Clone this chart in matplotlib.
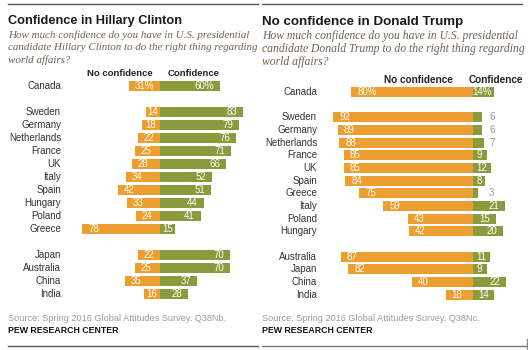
import matplotlib
matplotlib.use('Agg')
import matplotlib.pyplot as plt
from matplotlib.lines import Line2D

W, H = 528, 350

# Confidence in Hillary Clinton
hc_countries = ['Canada', 'Sweden', 'Germany', 'Netherlands', 'France', 'UK', 'Italy',
                'Spain', 'Hungary', 'Poland', 'Greece', 'Japan', 'Australia', 'China', 'India']
hc_no = [31, 14, 18, 22, 25, 28, 34, 42, 33, 24, 78, 22, 25, 35, 16]
hc_yes = [60, 83, 79, 76, 71, 66, 52, 51, 44, 41, 15, 70, 70, 37, 28]
hc_groups = [1, 10, 4]

# No confidence in Donald Trump
dt_countries = ['Canada', 'Sweden', 'Germany', 'Netherlands', 'France', 'UK', 'Spain',
                'Greece', 'Italy', 'Poland', 'Hungary', 'Australia', 'Japan', 'China', 'India']
dt_no = [80, 92, 89, 88, 85, 85, 84, 75, 59, 43, 42, 87, 82, 40, 18]
dt_yes = [14, 6, 6, 7, 9, 12, 8, 3, 21, 15, 20, 11, 9, 22, 14]
dt_groups = [1, 10, 4]

ORANGE = '#EC9E30'
GREEN = '#8A9A3C'
SANS = 'Liberation Sans'
SERIF = 'Liberation Serif'

fig = plt.figure(figsize=(W / 100, H / 100), dpi=100)


def ftext(x, y, s, **kw):
    fig.text(x / W, 1 - y / H, s, **kw)


def hline(x0, x1, y, color='#555555', lw=1.0):
    fig.add_artist(Line2D([x0 / W, x1 / W], [1 - y / H] * 2, color=color, lw=lw))


def slots(groups):
    pos = []
    i = 0
    for g in groups:
        for k in range(g):
            pos.append(i)
            i += 1
        i += 1
    return pos


def panel(x0, x1, zero, scale, top, step, countries, no, yes, groups, label_x, small_lim, gray_x):
    ax = fig.add_axes([x0 / W, 0, (x1 - x0) / W, 1])
    ax.set_xlim((x0 - zero) / scale, (x1 - zero) / scale)
    ax.set_ylim((H - top) / step, -top / step)
    ax.axis('off')
    pos = slots(groups)
    ax.barh(pos, [-v for v in no], height=0.78, color=ORANGE, lw=0)
    ax.barh(pos, yes, height=0.78, color=GREEN, lw=0)
    for i, p in enumerate(pos):
        suf = '%' if i == 0 else ''
        ax.text((label_x - zero) / scale, p, countries[i], ha='right', va='center',
                fontsize=7, family=SANS, color='#333333')
        t = str(no[i]) + suf
        w = no[i] * scale
        tw = 5.2 * len(t)
        pad = max(1, min(6, (w - tw) / 2))
        ax.annotate(t, (-no[i], p), xytext=(pad, 0), textcoords='offset pixels',
                    ha='left', va='center', fontsize=7, family=SANS, color='white')
        t = str(yes[i]) + suf
        if yes[i] < small_lim:
            ax.text((gray_x - zero) / scale, p, t, ha='left', va='center',
                    fontsize=7, family=SANS, color='#999999')
        else:
            w = yes[i] * scale
            tw = 5.2 * len(t)
            pad = max(1, min(6, (w - tw) / 2))
            ax.annotate(t, (yes[i], p), xytext=(-pad, 0), textcoords='offset pixels',
                        ha='right', va='center', fontsize=7, family=SANS, color='white')
    return ax


panel(0, 262, 160, 1.0, 86, 13.0, hc_countries, hc_no, hc_yes, hc_groups, 61, 0, 0)
panel(264, 528, 473, 1.52, 92, 12.67, dt_countries, dt_no, dt_yes, dt_groups, 317, 8, 489)

# left header
hline(8, 258, 4)
ftext(8, 24, 'Confidence in Hillary Clinton', fontsize=9.2, fontweight='bold',
      family=SANS, color='#1a1a1a', va='baseline')
sub_l = ['How much confidence do you have in U.S. presidential',
         'candidate Hillary Clinton to do the right thing regarding',
         'world affairs?']
for k, s in enumerate(sub_l):
    ftext(8, 38 + 12.5 * k, s, fontsize=7.9, style='italic', family=SERIF,
          color='#6e6256', va='baseline')
ftext(120, 76, 'No confidence', fontsize=6.8, fontweight='bold', family=SANS,
      color='#222222', ha='center', va='baseline')
ftext(194, 76, 'Confidence', fontsize=6.8, fontweight='bold', family=SANS,
      color='#222222', ha='center', va='baseline')
ftext(8, 321, 'Source: Spring 2016 Global Attitudes Survey. Q38Nb.', fontsize=6.6,
      family=SANS, color='#9a9a9a', va='baseline')
ftext(8, 333, 'PEW RESEARCH CENTER', fontsize=6.3, fontweight='bold', family=SANS,
      color='#111111', va='baseline')
hline(8, 258, 346)

# right header
hline(262, 522, 4)
ftext(262, 25, 'No confidence in Donald Trump', fontsize=9.6, fontweight='bold',
      family=SANS, color='#1a1a1a', va='baseline')
sub_r = ['How much confidence do you have in U.S. presidential',
         'candidate Donald Trump to do the right thing regarding',
         'world affairs?']
for k, s in enumerate(sub_r):
    ftext(262, 39 + 13.2 * k, s, fontsize=8.4, style='italic', family=SERIF,
          color='#6e6256', va='baseline')
ftext(418, 83, 'No confidence', fontsize=7.2, fontweight='bold', family=SANS,
      color='#222222', ha='center', va='baseline')
ftext(523, 83, 'Confidence', fontsize=7.2, fontweight='bold', family=SANS,
      color='#222222', ha='right', va='baseline')
ftext(262, 321, 'Source: Spring 2016 Global Attitudes Survey. Q38Nc.', fontsize=6.6,
      family=SANS, color='#9a9a9a', va='baseline')
ftext(262, 333, 'PEW RESEARCH CENTER', fontsize=6.3, fontweight='bold', family=SANS,
      color='#111111', va='baseline')
hline(262, 526, 346, color='#777777')
fig.add_artist(Line2D([526.5 / W] * 2, [1 - 339 / H, 1 - 349 / H], color='#888888', lw=1))

fig.savefig('out.png', dpi=100)
